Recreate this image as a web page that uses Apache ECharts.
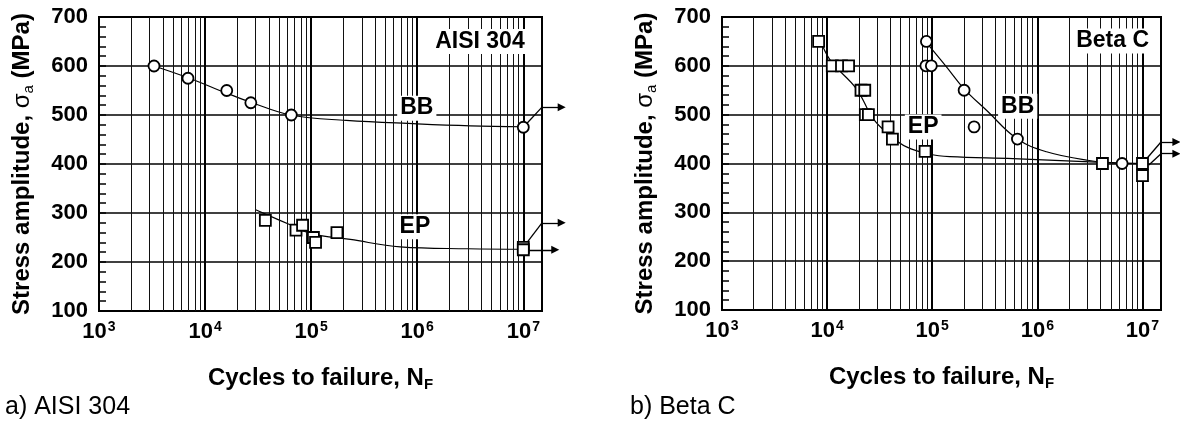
<!DOCTYPE html>
<html><head><meta charset="utf-8">
<script src="https://cdn.jsdelivr.net/npm/echarts@6/dist/echarts.min.js"></script>
<style>html,body{margin:0;padding:0;background:#fff}#c{width:1180px;height:423px}</style>
</head><body><div id="c"></div>
<script>
// ---------- Data ----------
// Panel a) AISI 304
const bbCyclesA = [3300, 6900, 16000, 27000, 65000, 10000000];
const bbStressA = [600, 575, 550, 525, 500, 475];
const epCyclesA = [37000, 72000, 83000, 105000, 110000, 175000, 10000000, 10000000];
const epStressA = [285, 265, 275, 250, 240, 260, 230, 225];
const bbCurveCyclesA = [3300, 6900, 15850, 27000, 64600, 214000, 1000000, 3160000, 10000000];
const bbCurveStressA = [600, 576, 545, 526, 500, 489, 482, 478, 476];
const epCurveCyclesA = [29600, 63400, 100000, 234000, 692000, 3000000, 10000000];
const epCurveStressA = [307, 276, 258, 246, 231, 227, 226];
const runoutA = [
  [[10000000, 475], [15000000, 516], [23000000, 516]],
  [[10000000, 230], [15000000, 280], [23000000, 280]],
  [[10000000, 225], [20000000, 225]]
];
// Panel b) Beta C
const epCyclesB = [8300, 11200, 13700, 16000, 21000, 22800, 23100, 24700, 38000, 41800, 85500, 4160000, 10000000, 10000000];
const epStressB = [650, 600, 600, 600, 550, 550, 500, 500, 475, 450, 425, 400, 400, 375];
const bbCyclesB = [88000, 87000, 98000, 201000, 250000, 646000, 6400000];
const bbStressB = [650, 600, 600, 550, 475, 450, 400];
const epCurveCyclesB = [9000, 11000, 19000, 27400, 39400, 56900, 94600, 146600, 587000, 3650000, 10000000];
const epCurveStressB = [642, 608, 553, 492, 458, 434, 419, 414, 410, 403, 400];
const bbCurveCyclesB = [89300, 136500, 201000, 328000, 647000, 1222000, 2930000, 6530000, 10000000];
const bbCurveStressB = [646, 598, 553, 509, 450, 424, 407, 400, 400];
const runoutB = [
  [[10000000, 400], [15000000, 444], [21000000, 444]],
  [[11500000, 397], [15000000, 420], [21000000, 420]]
];
// Axes / tick labels
const xExponents = [3, 4, 5, 6, 7];
const yTicks = [100, 200, 300, 400, 500, 600, 700];
const xMin = 1000, xMax = 15000000;
const minorDecades = [3, 4, 5, 6];
const minorMultipliers = [2, 3, 4, 5, 6, 7, 8, 9];
// ---------- annotations (text + placement in data space) ----------
const notesA = [
  {text: 'BB', at: [990000, 514]},
  {text: 'EP', at: [950000, 272]},
  {text: 'AISI 304', at: [3900000, 650]}
];
const notesB = [
  {text: 'BB', at: [650000, 517]},
  {text: 'EP', at: [82000, 475]},
  {text: 'Beta C', at: [5200000, 651]}
];

const FONT = "'Liberation Sans', Arial, Helvetica, sans-serif";
const minorGrid = [];
minorDecades.forEach(d => minorMultipliers.forEach(m => minorGrid.push({xAxis: m * Math.pow(10, d)})));
const zip = (a, b) => a.map((v, i) => [v, b[i]]);

function xAxisCfg(idx) {
  return {
    type: 'log', gridIndex: idx, min: xMin, max: xMax, logBase: 10,
    axisLine: {show: true, lineStyle: {color: '#000', width: 2}},
    axisTick: {show: false},
    splitLine: {show: true, lineStyle: {color: '#000', width: 2}},
    axisLabel: {
      margin: 9, fontFamily: FONT,
      formatter: v => {
        const e = Math.round(Math.log10(v));
        if (Math.abs(Math.pow(10, e) - v) > 1e-6 * v || xExponents.indexOf(e) < 0) return '';
        return '{b|10}{s|' + e + '}';
      },
      rich: {
        b: {fontSize: 22, fontWeight: 'bold', color: '#000', fontFamily: FONT, lineHeight: 24},
        s: {fontSize: 14, fontWeight: 'bold', color: '#000', fontFamily: FONT, verticalAlign: 'top', lineHeight: 24, padding: [0, 0, 10, 1]}
      }
    },
    name: '{t|Cycles to failure, N}{sub|F}', nameLocation: 'middle', nameGap: 53,
    nameTextStyle: {
      rich: {
        t: {fontSize: 24, fontWeight: 'bold', color: '#000', fontFamily: FONT, lineHeight: 28},
        sub: {fontSize: 15, fontWeight: 'bold', color: '#000', fontFamily: FONT, verticalAlign: 'bottom', lineHeight: 28, padding: [9, 0, 0, 0]}
      }
    }
  };
}
function yAxisCfg(idx) {
  return {
    type: 'value', gridIndex: idx, min: yTicks[0], max: yTicks[yTicks.length - 1], interval: 100,
    axisLine: {show: true, lineStyle: {color: '#000', width: 2}},
    axisTick: {show: true, inside: true, length: 7, lineStyle: {color: '#000', width: 1.5}},
    minorTick: {show: true, splitNumber: 5, length: 7, lineStyle: {color: '#000', width: 1.5}},
    splitLine: {show: true, lineStyle: {color: '#000', width: 1.5}},
    axisLabel: {fontSize: 22, fontWeight: 'bold', color: '#000', fontFamily: FONT, margin: 11},
    name: '{t|Stress amplitude, }{g|σ}{sub|a}{t| (MPa)}', nameLocation: 'middle', nameGap: 63,
    nameTextStyle: {
      rich: {
        t: {fontSize: 24, fontWeight: 'bold', color: '#000', fontFamily: FONT, lineHeight: 28},
        g: {fontSize: 24, color: '#000', fontFamily: FONT, lineHeight: 28},
        sub: {fontSize: 15, color: '#000', fontFamily: FONT, verticalAlign: 'bottom', lineHeight: 28, padding: [9, 0, 0, 0]}
      }
    }
  };
}
function curve(idx, xs, ys, withGrid) {
  const s = {
    type: 'line', xAxisIndex: idx, yAxisIndex: idx, data: zip(xs, ys), smooth: 0.4,
    showSymbol: false, symbol: 'none', lineStyle: {color: '#000', width: 1.2}, z: 3, silent: true, animation: false
  };
  if (withGrid) {
    s.markLine = {
      silent: true, symbol: ['none', 'none'], animation: false, label: {show: false},
      lineStyle: {color: '#111', width: 1, type: 'solid'}, data: minorGrid
    };
  }
  return s;
}
function marks(idx, xs, ys, sym) {
  return {
    type: 'scatter', xAxisIndex: idx, yAxisIndex: idx, data: zip(xs, ys), symbol: sym, symbolSize: 11,
    itemStyle: {color: '#fff', borderColor: '#000', borderWidth: 1.8, opacity: 1}, z: 6, animation: false, silent: true
  };
}
function segs(paths, withHead) {
  const out = [];
  paths.forEach(p => {
    for (let i = 0; i < p.length - 1; i++) {
      const last = i === p.length - 2;
      if (last === withHead) out.push({coords: [p[i], p[i + 1]]});
    }
  });
  return out;
}
function arrows(idx, paths, withHead) {
  return {
    type: 'lines', coordinateSystem: 'cartesian2d', xAxisIndex: idx, yAxisIndex: idx, clip: false,
    data: segs(paths, withHead), symbol: withHead ? ['none', 'triangle'] : ['none', 'none'], symbolSize: 8,
    lineStyle: {color: '#000', width: 1.3, opacity: 1, curveness: 0}, itemStyle: {color: '#000'},
    z: 4, animation: false, silent: true
  };
}
function notes(idx, list) {
  return {
    type: 'custom', xAxisIndex: idx, yAxisIndex: idx, coordinateSystem: 'cartesian2d',
    data: list.map(n => [n.at[0], n.at[1], n.text]), z: 5, animation: false, silent: true, clip: false,
    renderItem: (params, api) => {
      const p = api.coord([api.value(0), api.value(1)]);
      return {
        type: 'text', x: p[0], y: p[1], z2: 10,
        style: {
          text: list[params.dataIndex].text, fill: '#000', font: 'bold 23px ' + FONT,
          align: 'center', verticalAlign: 'middle', backgroundColor: '#fff', padding: [2, 3, 0, 3]
        }
      };
    }
  };
}

const chart = echarts.init(document.getElementById('c'), null, {renderer: 'canvas'});
chart.setOption({
  animation: false,
  backgroundColor: '#fff',
  grid: [
    {left: 99, top: 17, right: 638, bottom: 112, show: true, borderColor: '#000', borderWidth: 2, containLabel: false},
    {left: 722, top: 17, right: 19, bottom: 113, show: true, borderColor: '#000', borderWidth: 2, containLabel: false}
  ],
  xAxis: [xAxisCfg(0), xAxisCfg(1)],
  yAxis: [yAxisCfg(0), yAxisCfg(1)],
  graphic: [
    {type: 'text', left: 5, top: 395, style: {text: 'a) AISI 304', fontSize: 25, fontFamily: FONT, fill: '#000'}},
    {type: 'text', left: 630, top: 395, style: {text: 'b) Beta C', fontSize: 25, fontFamily: FONT, fill: '#000'}}
  ],
  series: [
    curve(0, bbCurveCyclesA, bbCurveStressA, true),
    curve(0, epCurveCyclesA, epCurveStressA, false),
    arrows(0, runoutA, false),
    arrows(0, runoutA, true),
    marks(0, bbCyclesA, bbStressA, 'circle'),
    marks(0, epCyclesA, epStressA, 'rect'),
    notes(0, notesA),
    curve(1, epCurveCyclesB, epCurveStressB, true),
    curve(1, bbCurveCyclesB, bbCurveStressB, false),
    arrows(1, runoutB, false),
    arrows(1, runoutB, true),
    marks(1, epCyclesB, epStressB, 'rect'),
    marks(1, bbCyclesB, bbStressB, 'circle'),
    notes(1, notesB)
  ]
});
</script></body></html>
